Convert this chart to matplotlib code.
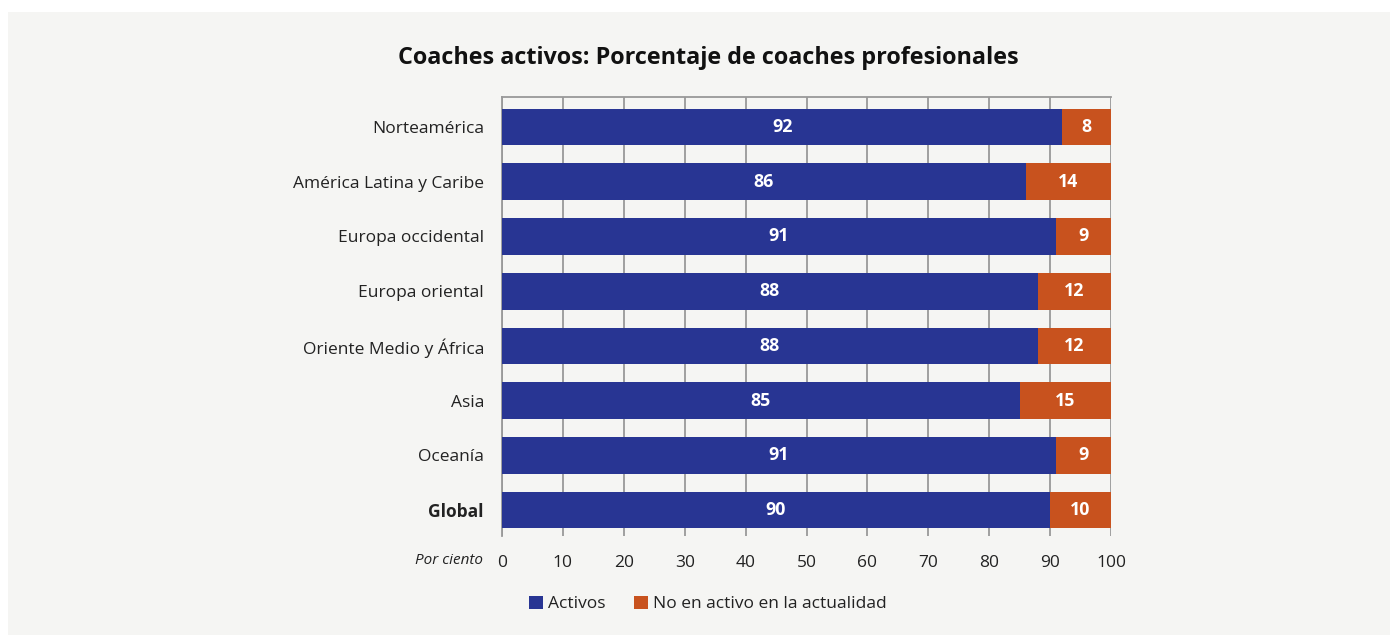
import matplotlib
matplotlib.use("Agg")
import matplotlib.pyplot as plt
from matplotlib.patches import Rectangle

regions = ["Norteamérica", "América Latina y Caribe", "Europa occidental", "Europa oriental",
           "Oriente Medio y África", "Asia", "Oceanía", "Global"]
activos = [92, 86, 91, 88, 88, 85, 91, 90]
no_activos = [8, 14, 9, 12, 12, 15, 9, 10]
xticks = [0, 10, 20, 30, 40, 50, 60, 70, 80, 90, 100]
series_names = ["Activos", "No en activo en la actualidad"]
title = "Coaches activos: Porcentaje de coaches profesionales"

BLUE = "#283593"
ORANGE = "#c8521e"
BG = "#f5f5f3"
GRID = "#999999"

plt.rcParams['font.family'] = ['Open Sans', 'DejaVu Sans']

W, H = 1397, 637
fig = plt.figure(figsize=(W/100, H/100), dpi=100)
fig.patch.set_facecolor("white")
fig.patches.append(Rectangle((8/W, 1 - 635/H), (1390-8)/W, (635-12)/H,
                             transform=fig.transFigure, facecolor=BG, edgecolor="none", zorder=-10))

ax = fig.add_axes([502/W, 1 - 536/H, (1111-502)/W, (536-97)/H])
ax.set_facecolor(BG)
ax.patch.set_alpha(0)

y = list(range(len(regions)))
ax.barh(y, activos, height=0.67, color=BLUE, zorder=3, label=series_names[0])
ax.barh(y, no_activos, left=activos, height=0.67, color=ORANGE, zorder=3, label=series_names[1])

for i in y:
    ax.text(activos[i]/2, i, str(activos[i]), ha="center", va="center", color="white",
            fontsize=12.8, fontweight="bold", zorder=4)
    ax.text(activos[i] + no_activos[i]/2, i, str(no_activos[i]), ha="center", va="center",
            color="white", fontsize=12.8, fontweight="bold", zorder=4)

ax.set_xlim(0, 100)
ax.set_ylim(len(regions) - 1 + 0.475, -0.55)
ax.set_xticks(xticks)
ax.set_xticklabels([str(t) for t in xticks], fontsize=12.5, color="#222222")
ax.set_yticks(y)
ax.set_yticklabels(regions, fontsize=12.5, color="#222222")
ax.get_yticklabels()[-1].set_fontweight("bold")
ax.tick_params(axis="x", length=0, pad=14)
ax.tick_params(axis="y", length=0, pad=13)
ax.xaxis.grid(True, color=GRID, linewidth=1.3, zorder=1)
for s in ["right", "bottom"]:
    ax.spines[s].set_visible(False)
for s in ["left", "top"]:
    ax.spines[s].set_color(GRID)
    ax.spines[s].set_linewidth(1.3)

fig.text(483/W, 1 - 561/H, "Por ciento", ha="right", va="center", fontsize=11,
         fontstyle="italic", color="#222222")

fig.text(708/W, 1 - 58/H, title, ha="center", va="center", fontsize=16.8,
         fontweight="bold", color="#111111")

leg = fig.legend(loc="center", bbox_to_anchor=(708/W, 1 - 604/H), ncol=2, frameon=False,
                 fontsize=12.5, handlelength=0.8, handleheight=0.8, handletextpad=0.3,
                 columnspacing=1.6)
for t in leg.get_texts():
    t.set_color("#222222")

fig.savefig("out.png", dpi=100, facecolor=fig.get_facecolor())
